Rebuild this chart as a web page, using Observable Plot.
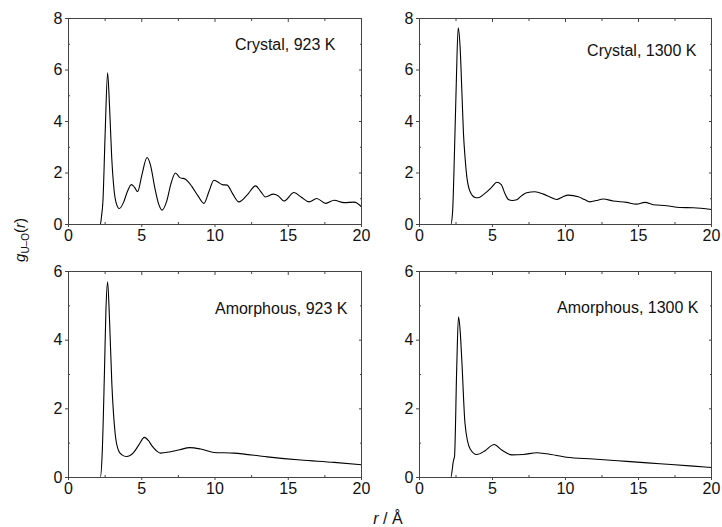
<!DOCTYPE html>
<html>
<head>
<meta charset="utf-8">
<script src="https://cdn.jsdelivr.net/npm/d3@7"></script>
<script src="https://cdn.jsdelivr.net/npm/@observablehq/plot@0.6"></script>
<style>
  html, body { margin: 0; padding: 0; background: #fff; }
  #wrap { position: relative; width: 722px; height: 527px; font-family: "Liberation Sans", Arial, sans-serif; color: #111; }
  .panel { position: absolute; }
  #ylab { position: absolute; left: 21px; top: 240px; transform: translate(-50%, -50%) rotate(-90deg); font-size: 15px; white-space: nowrap; }
  #ylab sub { font-size: 10px; }
  #xlab { position: absolute; left: 388px; top: 510px; transform: translateX(-50%); font-size: 16px; white-space: nowrap; }
</style>
</head>
<body>
<div id="wrap">
  <div id="ylab"><i>g</i><sub>U–O</sub>(<i>r</i>)</div>
  <div id="xlab"><i>r</i> / Å</div>
</div>
<script>
// ---- Data ----
const xTicks = [0, 5, 10, 15, 20];
const xMinor = [2.5, 7.5, 12.5, 17.5];
const yTicksTop = [0, 2, 4, 6, 8];
const yMinorTop = [1, 3, 5, 7];
const yTicksBottom = [0, 2, 4, 6];
const yMinorBottom = [1, 3, 5];

const labels = ["Crystal, 923 K", "Crystal, 1300 K", "Amorphous, 923 K", "Amorphous, 1300 K"];

const rCrystal923 = [0, 2.17, 2.25, 2.35, 2.5, 2.67, 2.8, 2.95, 3.1, 3.25, 3.47, 3.75, 4.0, 4.29, 4.5, 4.72, 5.0, 5.36, 5.6, 5.9, 6.15, 6.39, 6.7, 7.0, 7.3, 7.6, 7.98, 8.44, 8.85, 9.24, 9.6, 9.92, 10.2, 10.49, 10.83, 11.2, 11.63, 12.2, 12.77, 13.1, 13.45, 13.98, 14.3, 14.71, 15.39, 15.9, 16.42, 16.94, 17.56, 18.13, 18.81, 19.5, 20];
const gCrystal923 = [0, 0, 0.3, 0.9, 3.5, 5.89, 4.6, 2.6, 1.4, 0.85, 0.62, 0.85, 1.25, 1.55, 1.45, 1.28, 1.9, 2.6, 2.3, 1.4, 0.8, 0.56, 0.9, 1.6, 2.0, 1.82, 1.76, 1.46, 1.1, 0.82, 1.3, 1.72, 1.65, 1.55, 1.53, 1.2, 0.88, 1.15, 1.5, 1.3, 1.07, 1.18, 1.12, 0.91, 1.24, 1.06, 0.88, 1.01, 0.82, 0.94, 0.85, 0.87, 0.69];

const rCrystal1300 = [0, 2.14, 2.26, 2.4, 2.52, 2.65, 2.78, 2.9, 3.01, 3.12, 3.24, 3.47, 3.81, 4.04, 4.35, 4.61, 4.95, 5.29, 5.6, 5.85, 6.09, 6.35, 6.66, 7.0, 7.34, 7.91, 8.48, 8.9, 9.4, 9.8, 10.19, 10.88, 11.3, 11.68, 12.1, 12.59, 13.27, 14.18, 14.87, 15.44, 16.01, 16.92, 17.83, 18.75, 20];
const gCrystal1300 = [0, 0, 0.43, 2.9, 5.5, 7.64, 6.9, 5.2, 3.55, 2.6, 1.86, 1.27, 1.05, 1.04, 1.15, 1.27, 1.45, 1.64, 1.55, 1.2, 0.97, 0.93, 0.96, 1.12, 1.23, 1.27, 1.18, 1.08, 0.97, 1.07, 1.14, 1.08, 0.97, 0.88, 0.93, 0.99, 0.91, 0.86, 0.79, 0.86, 0.77, 0.73, 0.66, 0.65, 0.58];

const rAmorph923 = [0, 2.17, 2.3, 2.45, 2.55, 2.67, 2.8, 2.96, 3.19, 3.42, 3.65, 3.95, 4.45, 4.8, 5.18, 5.45, 5.7, 6.0, 6.27, 6.96, 7.6, 8.28, 9.01, 9.92, 11.29, 13.57, 15.85, 18.13, 20];
const gAmorph923 = [0, 0, 0.7, 3.0, 4.8, 5.7, 4.6, 2.72, 1.26, 0.78, 0.66, 0.61, 0.73, 0.95, 1.17, 1.08, 0.92, 0.78, 0.71, 0.75, 0.81, 0.87, 0.83, 0.73, 0.71, 0.6, 0.51, 0.44, 0.37];

const rAmorph1300 = [0, 2.14, 2.33, 2.4, 2.55, 2.67, 2.78, 2.9, 3.12, 3.47, 3.92, 4.49, 5.11, 5.63, 6.32, 7.12, 8.03, 8.71, 10.08, 11.9, 14.19, 16.47, 18.75, 20];
const gAmorph1300 = [0, 0, 0.5, 0.62, 3.2, 4.68, 4.3, 3.4, 1.56, 0.83, 0.67, 0.78, 0.96, 0.8, 0.66, 0.67, 0.72, 0.69, 0.59, 0.54, 0.47, 0.4, 0.33, 0.29];

// ---- Layout ----
const panels = [
  {r: rCrystal923, g: gCrystal923, label: labels[0], yMax: 8, yt: yTicksTop, ym: yMinorTop,
   left: 0, top: 0, width: 370, height: 250, ml: 68, mr: 9, mt: 18, mb: 26, dx: -26, dy: 26},
  {r: rCrystal1300, g: gCrystal1300, label: labels[1], yMax: 8, yt: yTicksTop, ym: yMinorTop,
   left: 370, top: 0, width: 352, height: 250, ml: 49, mr: 11, mt: 18, mb: 26, dx: -15, dy: 32},
  {r: rAmorph923, g: gAmorph923, label: labels[2], yMax: 6, yt: yTicksBottom, ym: yMinorBottom,
   left: 0, top: 250, width: 370, height: 258, ml: 68, mr: 9, mt: 21, mb: 31, dx: -14, dy: 37},
  {r: rAmorph1300, g: gAmorph1300, label: labels[3], yMax: 6, yt: yTicksBottom, ym: yMinorBottom,
   left: 370, top: 250, width: 352, height: 258, ml: 49, mr: 11, mt: 21, mb: 31, dx: -13, dy: 36}
];

const wrap = document.getElementById("wrap");
const axisColor = "#444";

for (const p of panels) {
  const data = p.r.map((r, i) => ({r, g: p.g[i]}));
  const chart = Plot.plot({
    width: p.width, height: p.height,
    marginLeft: p.ml, marginRight: p.mr, marginTop: p.mt, marginBottom: p.mb,
    style: {fontFamily: '"Liberation Sans", Arial, sans-serif', fontSize: "16px", color: "#111", background: "transparent", overflow: "visible"},
    x: {domain: [0, 20]},
    y: {domain: [0, p.yMax]},
    marks: [
      Plot.line(data, {x: "r", y: "g", stroke: "#000", strokeWidth: 1.1, curve: "monotone-x"}),
      Plot.frame({stroke: axisColor, strokeWidth: 1}),
      Plot.axisX({ticks: xTicks, tickSize: 3, tickPadding: 2, tickFormat: d => String(d), stroke: axisColor, fill: "#111", label: null}),
      Plot.axisX({ticks: xMinor, tickSize: -2, tickFormat: () => "", stroke: axisColor, label: null}),
      Plot.axisX({anchor: "top", ticks: xTicks, tickSize: -3, tickFormat: () => "", stroke: axisColor, label: null}),
      Plot.axisX({anchor: "top", ticks: xMinor, tickSize: -2, tickFormat: () => "", stroke: axisColor, label: null}),
      Plot.axisY({ticks: p.yt, tickSize: 3, tickPadding: 3, tickFormat: d => String(d), stroke: axisColor, fill: "#111", label: null}),
      Plot.axisY({ticks: p.ym, tickSize: -2, tickFormat: () => "", stroke: axisColor, label: null}),
      Plot.axisY({anchor: "right", ticks: p.yt, tickSize: -3, tickFormat: () => "", stroke: axisColor, label: null}),
      Plot.axisY({anchor: "right", ticks: p.ym, tickSize: -2, tickFormat: () => "", stroke: axisColor, label: null}),
      Plot.text([p.label], {frameAnchor: "top-right", text: d => d, dx: p.dx, dy: p.dy, textAnchor: "end", lineAnchor: "middle", fill: "#111", fontSize: 16})
    ]
  });
  chart.classList.add("panel");
  chart.style.left = p.left + "px";
  chart.style.top = p.top + "px";
  wrap.appendChild(chart);
}
</script>
</body>
</html>
